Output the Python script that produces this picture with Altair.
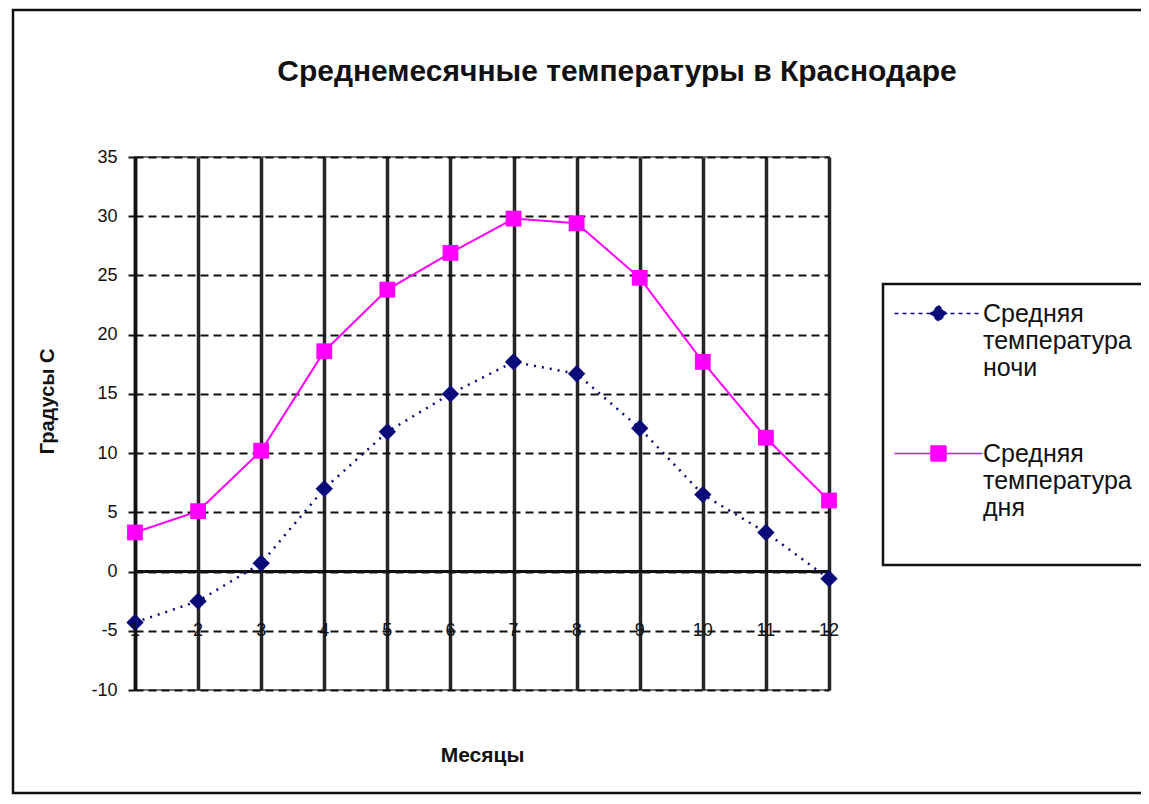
import altair as alt
import pandas as pd

months = list(range(1, 13))
night = [-4.3, -2.5, 0.7, 7.0, 11.8, 15.0, 17.7, 16.7, 12.1, 6.5, 3.3, -0.6]
day = [3.3, 5.1, 10.2, 18.6, 23.8, 26.9, 29.8, 29.4, 24.8, 17.7, 11.3, 6.0]
series = ["Средняя температура ночи", "Средняя температура дня"]
colors = ["#0a0a78", "#ff00ff"]
y_ticks = list(range(-10, 40, 5))

rows = []
for m, n, d in zip(months, night, day):
    rows.append({"month": m, "series": series[0], "temp": n})
    rows.append({"month": m, "series": series[1], "temp": d})
df = pd.DataFrame(rows)
mdf = pd.DataFrame({"month": months})
zero = pd.DataFrame({"v": [0]})

FONT = "Liberation Sans"
W, H = 694, 533

xs = alt.Scale(domain=[1, 12], nice=False, zero=False)
ys = alt.Scale(domain=[-10, 35], nice=False, zero=False)

base = alt.Chart(df)

x_enc = alt.X("month:Q", scale=xs, axis=alt.Axis(
    values=months, labels=False, ticks=False, domain=False, grid=True,
    gridColor="#262626", gridWidth=3.5, gridOpacity=1,
    title="Месяцы", titleFont=FONT, titleFontSize=21, titleFontWeight="bold",
    titleY=65, titleBaseline="middle", titleColor="#111"))
y_enc = alt.Y("temp:Q", scale=ys, axis=alt.Axis(
    values=y_ticks, grid=True, gridColor="#111", gridDash=[8, 5], gridWidth=2,
    gridOpacity=1, domain=True, domainColor="#111", domainWidth=3.5,
    ticks=True, tickSize=7, tickColor="#111", tickWidth=2,
    labelFont=FONT, labelFontSize=18, labelColor="#111", labelPadding=11,
    labelExpr="'' + datum.value",
    title="Градусы С", titleFont=FONT, titleFontSize=20, titleFontWeight="bold",
    titleX=-88, titleY=244, titleAngle=270, titleBaseline="middle", titleColor="#111"))

grid = base.mark_point(opacity=0).encode(x=x_enc, y=y_enc)

zero_rule = alt.Chart(zero).mark_rule(color="#111", strokeWidth=3).encode(
    y=alt.Y("v:Q", scale=ys))

night_line = base.transform_filter(alt.datum.series == series[0]).mark_line(
    color=colors[0], strokeWidth=2.5, strokeDash=[2, 6]).encode(
    x=alt.X("month:Q", scale=xs), y=alt.Y("temp:Q", scale=ys))
day_line = base.transform_filter(alt.datum.series == series[1]).mark_line(
    color=colors[1], strokeWidth=2).encode(
    x=alt.X("month:Q", scale=xs), y=alt.Y("temp:Q", scale=ys))
night_pts = base.transform_filter(alt.datum.series == series[0]).mark_point(
    shape="diamond", filled=True, size=300, color=colors[0], opacity=1).encode(
    x=alt.X("month:Q", scale=xs), y=alt.Y("temp:Q", scale=ys))
day_pts = base.transform_filter(alt.datum.series == series[1]).mark_point(
    shape="square", filled=True, size=250, color=colors[1], opacity=1).encode(
    x=alt.X("month:Q", scale=xs), y=alt.Y("temp:Q", scale=ys))

xlabels = alt.Chart(mdf).mark_text(font=FONT, fontSize=18, color="#111",
                                   baseline="middle", align="center").encode(
    x=alt.X("month:Q", scale=xs), y=alt.datum(-5), text="month:Q")

path_night = "M-4.4,0L4.4,0M0,-0.8L0.8,0L0,0.8L-0.8,0Z"
path_day = "M-4.4,0L4.4,0M-0.75,-0.75L0.75,-0.75L0.75,0.75L-0.75,0.75Z"
leg = alt.Legend(title=None, orient="none", legendX=748, legendY=127,
                 labelExpr="split(datum.label + (datum.value == 'Средняя температура дня' ? ' ' : ''), ' ')",
                 labelFont=FONT,
                 labelFontSize=25, labelLimit=400, labelColor="#111",
                 labelBaseline="middle", symbolSize=400, symbolOffset=26,
                 labelOffset=32, rowPadding=60, padding=17,
                 strokeColor="#111", fillColor="white")
legend_layer = base.transform_filter("false").mark_point(
    filled=True, size=400, strokeWidth=2, opacity=1).encode(
    x=alt.X("month:Q", scale=xs), y=alt.Y("temp:Q", scale=ys),
    color=alt.Color("series:N", scale=alt.Scale(domain=series, range=colors), legend=leg),
    stroke=alt.Stroke("series:N", scale=alt.Scale(domain=series, range=colors), legend=leg),
    shape=alt.Shape("series:N", scale=alt.Scale(domain=series, range=[path_night, path_day]), legend=leg),
    strokeDash=alt.StrokeDash("series:N", scale=alt.Scale(domain=series, range=[[4, 4], [1, 0]]), legend=leg),
)

frame = alt.Chart(zero).mark_rect(fill=None, stroke="#111", strokeWidth=2.5).encode(
    x=alt.value(-122), x2=alt.value(1011), y=alt.value(-147), y2=alt.value(636))

chart = alt.layer(
    grid, zero_rule, night_line, day_line, night_pts, day_pts, xlabels, legend_layer, frame
).properties(
    width=W, height=H,
    title=alt.Title("Среднемесячные температуры в Краснодаре", font=FONT,
                    fontSize=30, fontWeight="bold", color="#111",
                    anchor="middle", dx=135, offset=0, dy=78),
    autosize=alt.AutoSizeParams(type="none"),
    padding={"left": 127, "top": 149, "right": 312, "bottom": 106},
).configure_view(stroke="#777", strokeWidth=2).configure_legend(strokeWidth=2.5)

chart.save("out.html", embed_options={"renderer": "svg", "actions": False})
